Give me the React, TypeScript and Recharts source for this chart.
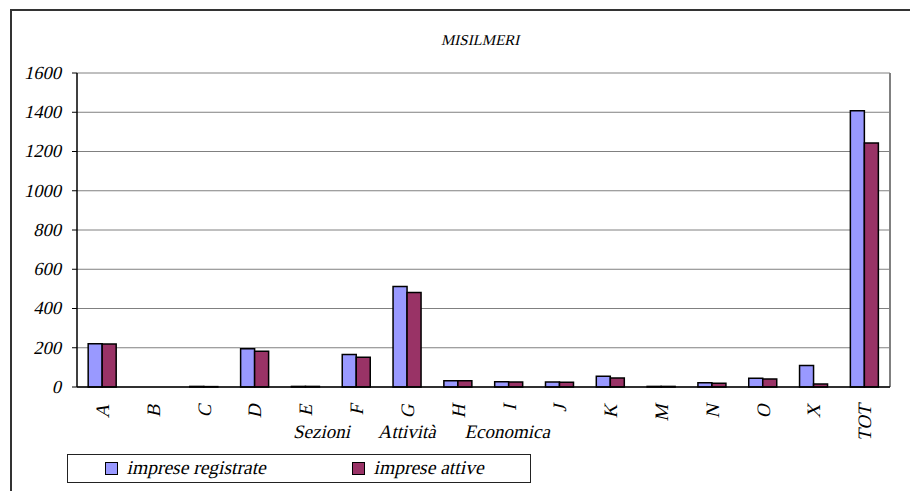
import { Bar, BarChart, CartesianGrid, Legend, ReferenceLine, XAxis, YAxis } from "recharts";

const categories = ["A", "B", "C", "D", "E", "F", "G", "H", "I", "J", "K", "M", "N", "O", "X", "TOT"];
const registrate = [221, 0, 3, 195, 3, 165, 512, 32, 27, 25, 55, 3, 22, 44, 109, 1408];
const attive = [219, 0, 2, 182, 3, 151, 482, 32, 26, 24, 46, 3, 19, 41, 15, 1243];
const yTicks = [0, 200, 400, 600, 800, 1000, 1200, 1400, 1600];
const edgeTicks = categories.map((_, i) => i).concat(categories.length);

const REG_COLOR = "#9999FF";
const ATT_COLOR = "#993366";
// only the upright face of Liberation Serif is available, so italics are faked with a skew
const FONT = "Liberation Serif";
const SKEW = -13;

const slant = (x: number, y: number) => `translate(${x}, ${y}) skewX(${SKEW}) translate(${-x}, ${-y})`;

const chartData = categories.map((name, i) => ({
  name,
  registrate: registrate[i],
  attive: attive[i],
}));

const CategoryTick = ({ x, y, payload }: any) => (
  <text
    x={x}
    y={y}
    transform={`rotate(-90, ${x}, ${y}) ${slant(x, y)}`}
    textAnchor="end"
    dy="0.35em"
    style={{ fontFamily: FONT, fontSize: 19 }}
    fill="#000"
  >
    {payload.value}
  </text>
);

const YTick = ({ x, y, payload }: any) => (
  <text
    x={x}
    y={y + 6}
    transform={slant(x, y + 6)}
    textAnchor="end"
    style={{ fontFamily: FONT, fontSize: 18.5 }}
    fill="#000"
  >
    {payload.value}
  </text>
);

const AxisTitle = ({ viewBox }: any) => {
  const cx = viewBox.x + viewBox.width / 2 - 62;
  const cy = viewBox.y + 51;
  return (
    <text
      x={cx}
      y={cy}
      transform={slant(cx, cy)}
      textAnchor="middle"
      fill="#000"
      style={{ fontFamily: FONT, fontSize: 19, wordSpacing: "24px" }}
    >
      Sezioni Attività Economica
    </text>
  );
};

const LegendBox = () => (
  <div
    style={{
      width: 464,
      height: 29,
      border: "1px solid #222",
      boxSizing: "border-box",
      background: "#fff",
      position: "relative",
      fontFamily: FONT,
      fontSize: 19.5,
    }}
  >
    {[
      { label: "imprese registrate", color: REG_COLOR, left: 37 },
      { label: "imprese attive", color: ATT_COLOR, left: 284 },
    ].map((item) => (
      <div
        key={item.label}
        style={{ position: "absolute", left: item.left, top: 2, display: "flex", alignItems: "center", whiteSpace: "nowrap", lineHeight: "22px" }}
      >
        <span
          style={{
            display: "inline-block",
            width: 11,
            height: 11,
            background: item.color,
            border: "1.5px solid #000",
            marginRight: 10,
          }}
        />
        <span style={{ display: "inline-block", transform: `skewX(${SKEW}deg)` }}>{item.label}</span>
      </div>
    ))}
  </div>
);

export default function App() {
  return (
    <div style={{ position: "absolute", left: 0, top: 0, width: 910, height: 491, overflow: "hidden", background: "#fff" }}>
      <div
        style={{
          position: "absolute",
          left: 10,
          top: 9,
          width: 920,
          height: 500,
          borderLeft: "2px solid #333",
          borderTop: "2px solid #333",
        }}
      />
      <div
        style={{
          position: "absolute",
          left: 381,
          top: 32,
          width: 200,
          textAlign: "center",
          fontFamily: FONT,
          fontSize: 15,
        }}
      >
        <span style={{ display: "inline-block", transform: `skewX(${SKEW}deg)` }}>MISILMERI</span>
      </div>
      <div style={{ position: "absolute", left: 0, top: 0 }}>
        <BarChart
          width={910}
          height={491}
          data={chartData}
          margin={{ top: 73, right: 20, left: 0, bottom: 44 }}
          barCategoryGap="22%"
          barGap={0}
        >
          <CartesianGrid vertical={false} stroke="#808080" strokeWidth={1} />
          <XAxis
            xAxisId="edges"
            type="number"
            dataKey="edge"
            domain={[0, categories.length]}
            ticks={edgeTicks}
            tick={false}
            axisLine={false}
            tickLine={{ stroke: "#000" }}
            tickSize={6}
            height={0}
            allowDataOverflow
          />
          <XAxis
            dataKey="name"
            interval={0}
            tick={<CategoryTick />}
            tickLine={false}
            axisLine={{ stroke: "#000", strokeWidth: 1.5 }}
            tickMargin={10}
            height={60}
            label={<AxisTitle />}
          />
          <YAxis
            domain={[0, 1600]}
            ticks={yTicks}
            width={77}
            axisLine={{ stroke: "#000", strokeWidth: 1.5 }}
            tickLine={{ stroke: "#000" }}
            tickSize={5}
            tickMargin={11}
            tick={<YTick />}
          />
          <ReferenceLine xAxisId="edges" x={categories.length} stroke="#808080" strokeWidth={2} />
          <Bar dataKey="registrate" name="imprese registrate" fill={REG_COLOR} stroke="#000" strokeWidth={1.5} isAnimationActive={false} />
          <Bar dataKey="attive" name="imprese attive" fill={ATT_COLOR} stroke="#000" strokeWidth={1.5} isAnimationActive={false} />
          <Legend
            layout="vertical"
            align="center"
            verticalAlign="middle"
            content={<LegendBox />}
            wrapperStyle={{ left: 67, top: 454, width: 464 }}
          />
        </BarChart>
      </div>
    </div>
  );
}
